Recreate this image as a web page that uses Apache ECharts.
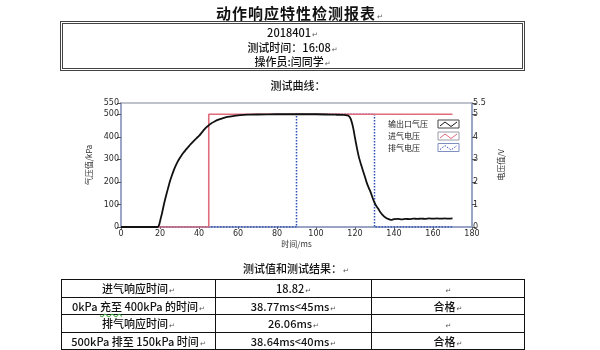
<!DOCTYPE html>
<html>
<head>
<meta charset="utf-8">
<script src="https://cdn.jsdelivr.net/npm/echarts@6/dist/echarts.min.js"></script>
<style>
  html, body { margin: 0; padding: 0; background: #fff; }
  body { width: 600px; height: 350px; position: relative; overflow: hidden;
         font-family: "Noto Sans CJK SC", "DejaVu Sans", sans-serif; color: #111; font-weight: 500; }
  #chart { position: absolute; left: 0; top: 0; width: 600px; height: 350px; z-index: 0; }
  .t { position: absolute; white-space: nowrap; z-index: 1; line-height: 16px; }
  .pm { font-family: "DejaVu Sans", sans-serif; font-size: 7px; color: #555; margin-left: 1px; line-height: 0; font-weight: normal; }
  #title { left: 0; width: 600px; top: 5px; text-align: center; font-size: 15px; font-weight: bold; letter-spacing: 1px; }
  #info { position: absolute; left: 60px; top: 21px; width: 459px; height: 44px; border: 3px double #444; z-index: 1; }
  #info div { text-align: center; font-size: 11px; height: 14.5px; line-height: 14.5px; }
  #info div:first-child { margin-top: 1px; }
  #cap1 { left: 0; width: 596px; top: 77px; text-align: center; font-size: 11px; }
  #cap2 { left: 0; width: 592px; top: 260px; text-align: center; font-size: 11px; }
  table { position: absolute; left: 61px; top: 279px; border-collapse: collapse; z-index: 1; font-size: 11px; }
  td { border: 1px solid #111; height: 16.5px; padding: 0; text-align: center; line-height: 16px; }
  .c1 { width: 153px; } .c2 { width: 155px; } .c3 { width: 152px; }
  .wavy { text-decoration: underline wavy #4a4; text-underline-offset: 2px; }
</style>
</head>
<body>
<div id="chart"></div>
<div class="t" id="title">动作响应特性检测报表<span class="pm">↵</span></div>
<div id="info">
  <div>2018401<span class="pm">↵</span></div>
  <div>测试时间：16:08<span class="pm">↵</span></div>
  <div>操作员:闫同学<span class="pm">↵</span></div>
</div>
<div class="t" id="cap1">测试曲线：</div>
<div class="t" id="cap2">测试值和测试结果：<span class="pm">↵</span></div>
<table>
  <tr><td class="c1">进气响应时间<span class="pm">↵</span></td><td class="c2">18.82<span class="pm">↵</span></td><td class="c3"><span class="pm">↵</span></td></tr>
  <tr><td class="c1">0kPa <span class="wavy">充至</span> 400kPa 的时间<span class="pm">↵</span></td><td class="c2">38.77ms&lt;45ms<span class="pm">↵</span></td><td class="c3">合格<span class="pm">↵</span></td></tr>
  <tr><td class="c1">排气响应时间<span class="pm">↵</span></td><td class="c2">26.06ms<span class="pm">↵</span></td><td class="c3"><span class="pm">↵</span></td></tr>
  <tr><td class="c1">500kPa 排至 150kPa 时间<span class="pm">↵</span></td><td class="c2">38.64ms&lt;40ms<span class="pm">↵</span></td><td class="c3">合格<span class="pm">↵</span></td></tr>
</table>
<script>
// Outlet pressure (kPa) over time (ms)
const outletPressure = [
  [0,0],[5,0],[10,0],[15,0],[18.8,0],[19.5,8],[20,25],[21,60],[22,100],[23,135],[24,168],
  [25,200],[26,226],[27,250],[28,271],[29,289],[30,304],[31,317],[32,329],[33,340],[34,350],
  [35,360],[36,370],[37,379],[38,388],[39,396],[40,404],[41,414],[42,425],[43,435],[44,444],
  [45,451],[46,458],[48,468],[50,476],[52,482],[54,487],[56,490],[58,493],[60,495],[65,498],
  [70,499],[80,500],[90,500],[100,500],[110,498],[114,497],[116,495],[117,491],[117.8,480],
  [118.5,460],[119.3,430],[120,395],[121,350],[122,310],[123,280],[124,252],[125,225],
  [126,197],[127,175],[128,155],[129,130],[130,108],[131,92],[132,80],[133,65],[134,55],
  [135,46],[136,40],[137,36],[138,33],[139,32],[140,35],[142,36],[144,34],[146,36],[148,35],
  [150,37],[152,36],[154,37],[156,36],[158,38],[160,37],[162,38],[164,37],[166,38],[168,37],[170,38]
];
// Intake valve voltage (V)
const intakeVoltage = [[0,0],[45,0],[45,5],[170,5]];
// Exhaust valve voltage (V)
const exhaustVoltage = [[0,0],[90,0],[90,5],[130,5],[130,0],[170,0]];

const pressureTicks = [0,100,200,300,400,500,550];
const voltageTicks = [0,1,2,3,4,5,5.5];
const seriesNames = ['输出口气压','进气电压','排气电压'];

const axisLineColor = '#8e9bc6';
const labelStyle = { fontSize: 8, color: '#2a2a2a', fontFamily: 'DejaVu Sans' };

const chart = echarts.init(document.getElementById('chart'), null, { renderer: 'canvas' });

// legend swatch: framed box with a small wave inside
function swatch(x, y, frame, line, dashed) {
  return {
    type: 'group', x: x, y: y, children: [
      { type: 'rect', shape: { x: 0, y: 0, width: 21, height: 8 }, style: { fill: '#fff', stroke: frame, lineWidth: 1 } },
      { type: 'polyline', shape: { points: [[2,6],[7,2],[13,6.5],[19,2]] },
        style: { stroke: line, lineWidth: 1, fill: null, lineDash: dashed ? [1.5,1.5] : null } }
    ]
  };
}
const legendX = 388, legendRows = [124, 136, 147.5];
const legendFont = { fontSize: 8, fill: '#222', verticalAlign: 'middle', fontFamily: 'Noto Sans CJK SC' };

chart.setOption({
  backgroundColor: 'transparent',
  animation: false,
  grid: { left: 121, right: 128, top: 103, bottom: 123, show: true, borderColor: '#a9aeb9', borderWidth: 1.5 },
  xAxis: {
    type: 'value', min: 0, max: 180, interval: 20,
    name: '时间/ms', nameLocation: 'middle', nameGap: 13,
    nameTextStyle: { fontSize: 8, color: '#333', fontFamily: 'Noto Sans CJK SC' },
    axisLine: { lineStyle: { color: axisLineColor, width: 1.5 } },
    axisTick: { length: 2, lineStyle: { color: '#666' } },
    axisLabel: Object.assign({ margin: 3 }, labelStyle),
    splitLine: { show: false }
  },
  yAxis: [{
    type: 'value', min: 0, max: 550, interval: 50, position: 'left',
    name: '气压值/kPa', nameLocation: 'middle', nameGap: 27,
    nameTextStyle: { fontSize: 8, color: '#333', fontFamily: 'Noto Sans CJK SC' },
    axisLine: { show: true, lineStyle: { color: axisLineColor, width: 1.5 } },
    axisTick: { show: true, length: 4, customValues: pressureTicks, lineStyle: { color: '#555' } },
    axisLabel: Object.assign({ margin: 2, customValues: pressureTicks }, labelStyle),
    splitLine: { show: false }
  }, {
    type: 'value', min: 0, max: 5.5, interval: 0.5, position: 'right',
    name: '电压值/V', nameLocation: 'middle', nameGap: 24,
    nameTextStyle: { fontSize: 8, color: '#333', fontFamily: 'Noto Sans CJK SC' },
    axisLine: { show: true, lineStyle: { color: axisLineColor, width: 1.5 } },
    axisTick: { show: true, length: 4, customValues: voltageTicks, lineStyle: { color: '#555' } },
    axisLabel: Object.assign({ margin: 1, customValues: voltageTicks }, labelStyle),
    splitLine: { show: false }
  }],
  series: [{
    name: seriesNames[2], type: 'line', yAxisIndex: 1, data: exhaustVoltage, z: 2,
    showSymbol: false, symbol: 'none',
    lineStyle: { color: '#2d4fb3', width: 1.5, type: [1.5, 1.5] }
  }, {
    name: seriesNames[1], type: 'line', yAxisIndex: 1, data: intakeVoltage, z: 3,
    showSymbol: false, symbol: 'none',
    lineStyle: { color: '#e06b7a', width: 1.6 }
  }, {
    name: seriesNames[0], type: 'line', yAxisIndex: 0, data: outletPressure, z: 4,
    showSymbol: false, symbol: 'none', smooth: 0.2,
    lineStyle: { color: '#111', width: 1.8 }
  }],
  graphic: [
    { type: 'text', x: legendX, y: legendRows[0], style: Object.assign({ text: seriesNames[0] }, legendFont) },
    { type: 'text', x: legendX, y: legendRows[1], style: Object.assign({ text: seriesNames[1] }, legendFont) },
    { type: 'text', x: legendX, y: legendRows[2], style: Object.assign({ text: seriesNames[2] }, legendFont) },
    swatch(438, legendRows[0] - 4, '#444', '#111', false),
    swatch(438, legendRows[1] - 4, '#9a9aa8', '#e06b7a', false),
    swatch(438, legendRows[2] - 4, '#7f8fc0', '#2d4fb3', true)
  ]
});
</script>
</body>
</html>
